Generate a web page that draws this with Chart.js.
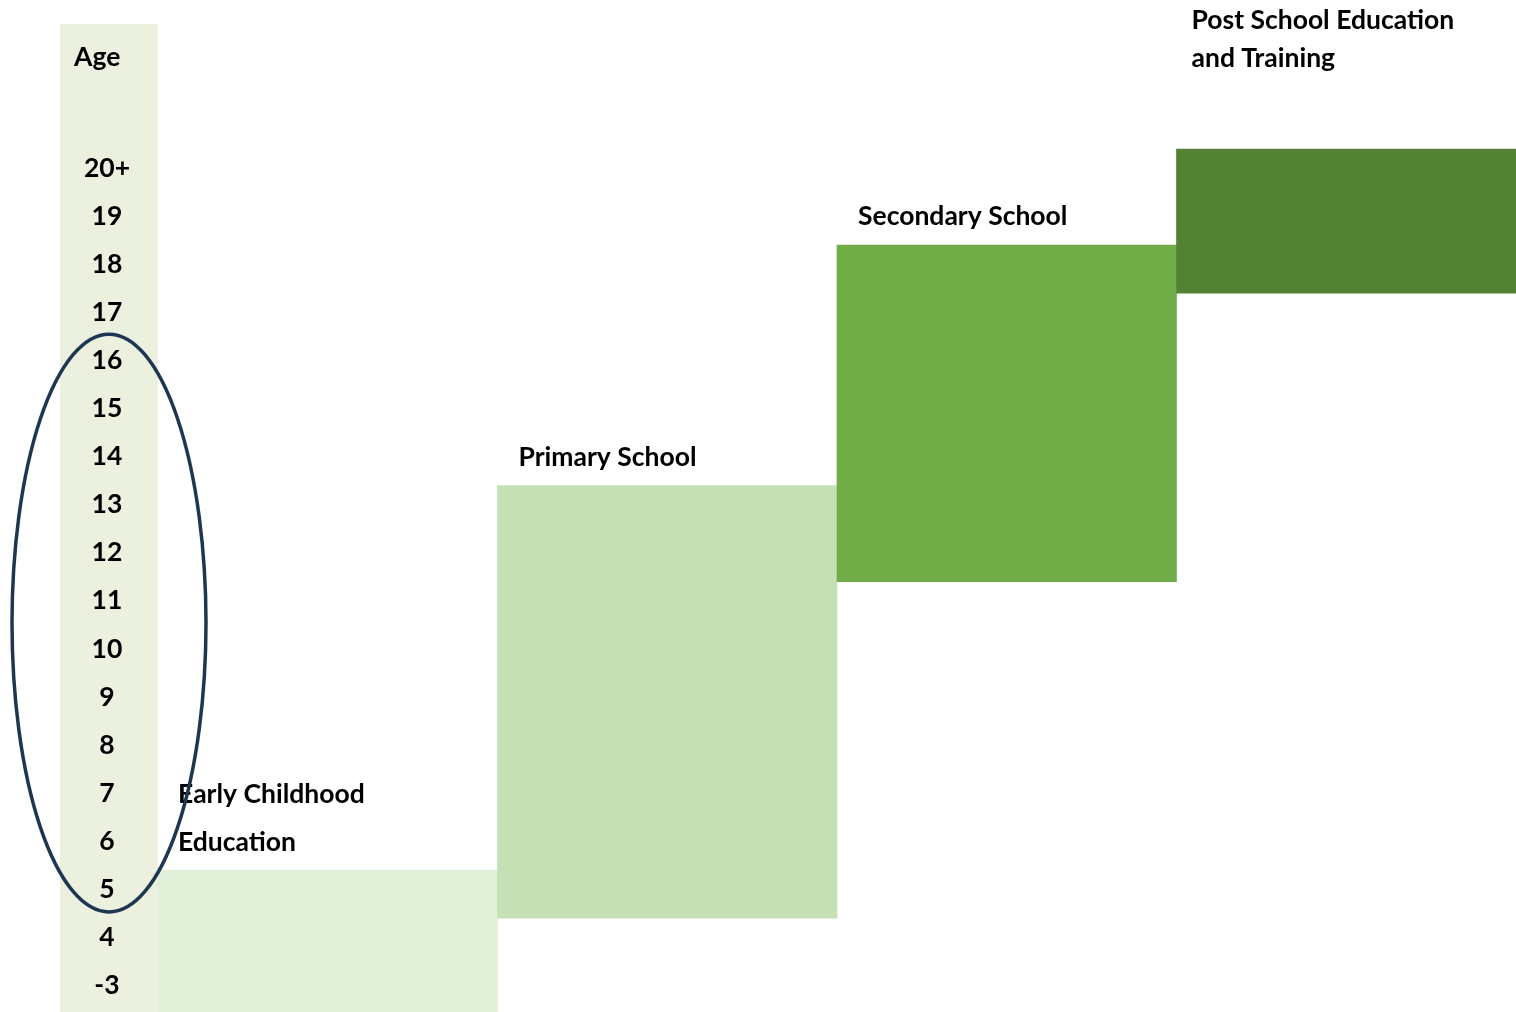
<!DOCTYPE html>
<html>
<head>
<meta charset="utf-8">
<script src="https://cdn.jsdelivr.net/npm/chart.js@4.4.1/dist/chart.umd.min.js"></script>
<style>
  html, body { margin: 0; padding: 0; background: #fff; }
  #wrap { width: 1516px; height: 1012px; position: relative; }
</style>
</head>
<body>
<div id="wrap"><canvas id="chart"></canvas></div>
<script>
// Education pathway by age: floating bars on an age index scale
const stages    = ['Early Childhood Education', 'Primary School', 'Secondary School', 'Post School Education and Training'];
const stageText = [['Early Childhood', 'Education'], ['Primary School'], ['Secondary School'], ['Post School Education', 'and Training']];
const stageFrom = [-0.55, 1.4, 8.4, 14.4];
const stageTo   = [2.4, 10.4, 15.4, 17.4];
const ageLabels = ['-3', '4', '5', '6', '7', '8', '9', '10', '11', '12', '13', '14', '15', '16', '17', '18', '19', '20+'];
const colors    = ['#e2efd9', '#c5e0b4', '#70ad47', '#548235'];

const FONT = 'Lato, "Open Sans", sans-serif';
const FSIZE = 26.5;

// label placement per bar: x inset, lift of last line above bar top, line gap
const labelInset = [20, 21, 21, 15];
const labelLift  = [28, 28, 29, 91];
const labelGap   = [48, 38, 38, 38];

const decor = {
  id: 'decor',
  beforeDraw(chart) {
    const { ctx, scales: { y } } = chart;
    ctx.save();
    ctx.fillStyle = '#ebf1de';
    const top = y.getPixelForValue(20);
    ctx.fillRect(y.left, top, y.right - y.left, chart.chartArea.bottom - top);
    ctx.restore();
  },
  afterDraw(chart) {
    const { ctx, scales: { y } } = chart;
    const meta = chart.getDatasetMeta(0);
    ctx.save();
    ctx.fillStyle = '#000';
    ctx.font = `bold ${FSIZE}px ${FONT}`;
    ctx.textBaseline = 'middle';
    ctx.textAlign = 'left';
    ctx.fillText('Age', y.left + 14, y.getPixelForValue(19.3));

    meta.data.forEach((bar, i) => {
      const left = bar.x - bar.width / 2 + labelInset[i];
      const top = Math.min(bar.y, bar.base);
      const lines = stageText[i];
      lines.forEach((line, j) => {
        const yy = top - labelLift[i] - (lines.length - 1 - j) * labelGap[i];
        ctx.fillText(line, left, yy);
      });
    });

    // ellipse marking the compulsory school ages
    const cx = (y.left + y.right) / 2;
    const cy = y.getPixelForValue(7.54);
    const ry = Math.abs(y.getPixelForValue(7.54 + 6.01) - cy);
    ctx.beginPath();
    ctx.ellipse(cx, cy, 97, ry, 0, 0, Math.PI * 2);
    ctx.lineWidth = 3.5;
    ctx.strokeStyle = '#1f3652';
    ctx.stroke();
    ctx.restore();
  },
};

new Chart(document.getElementById('chart'), {
  type: 'bar',
  data: {
    labels: stages,
    datasets: [{
      data: stages.map((_, i) => [stageFrom[i], stageTo[i]]),
      backgroundColor: colors,
      borderWidth: 0,
      borderSkipped: false,
      categoryPercentage: 1,
      barPercentage: 1,
    }],
  },
  options: {
    responsive: true,
    maintainAspectRatio: false,
    animation: false,
    layout: { padding: { left: 60, right: 0, top: 0, bottom: 0 } },
    plugins: { legend: { display: false }, tooltip: { enabled: false } },
    scales: {
      x: { display: false },
      y: {
        min: -0.55,
        max: 20.5,
        afterBuildTicks: s => { s.ticks = ageLabels.map((_, i) => ({ value: i })); },
        afterFit: s => { s.width = 98; s.paddingTop = 0; s.paddingBottom = 0; },
        grid: { display: false, drawTicks: false },
        border: { display: false },
        ticks: {
          autoSkip: false,
          crossAlign: 'center',
          padding: 28,
          color: '#000',
          font: { family: FONT, size: FSIZE, weight: 'bold' },
          callback: (v, i) => ageLabels[i],
        },
      },
    },
  },
  plugins: [decor],
});
</script>
</body>
</html>
